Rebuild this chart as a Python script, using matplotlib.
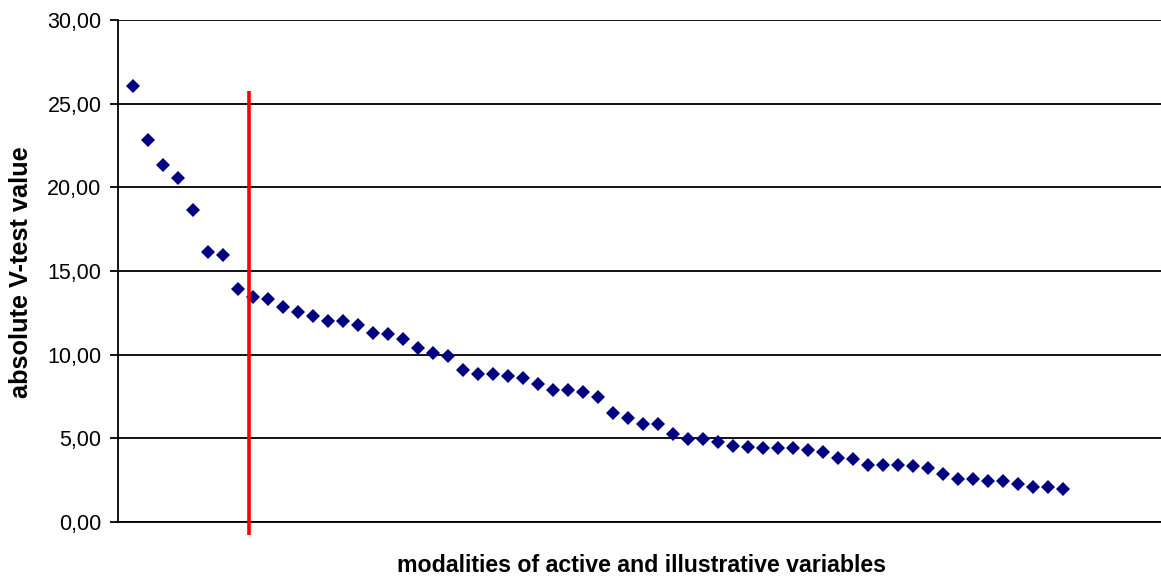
import matplotlib
matplotlib.use("Agg")
import matplotlib.pyplot as plt
from matplotlib.ticker import FuncFormatter

plt.rcParams['font.family'] = ['Liberation Sans', 'DejaVu Sans']

vtest_values = [
    26.03, 22.85, 21.33, 20.55, 18.62, 16.14, 15.94, 13.92, 13.44, 13.34,
    12.87, 12.57, 12.29, 12.01, 12.01, 11.79, 11.32, 11.24, 10.96, 10.40,
    10.07, 9.91, 9.11, 8.85, 8.85, 8.75, 8.63, 8.25, 7.86, 7.86,
    7.76, 7.46, 6.51, 6.21, 5.83, 5.83, 5.28, 4.96, 4.96, 4.76,
    4.56, 4.48, 4.40, 4.40, 4.40, 4.31, 4.21, 3.81, 3.75, 3.43,
    3.43, 3.43, 3.35, 3.25, 2.86, 2.57, 2.57, 2.48, 2.48, 2.28,
    2.09, 2.09, 1.99,
]
modality_index = list(range(1, len(vtest_values) + 1))
cutoff_position = 8.73
cutoff_range = (-0.78, 25.76)
y_ticks = [0, 5, 10, 15, 20, 25, 30]

W, H = 1161, 577
fig = plt.figure(figsize=(W / 100, H / 100), dpi=100)
ax = fig.add_axes([118 / W, (H - 522) / H, (W - 118) / W, (522 - 20) / H])

ax.plot(modality_index, vtest_values, linestyle='none', marker='D',
        markersize=7, color='#000080', markeredgewidth=0, zorder=3)

ax.plot([cutoff_position, cutoff_position], list(cutoff_range), color='#ff0000',
        linewidth=2.6, clip_on=False, zorder=4, solid_capstyle='butt')

ax.set_xlim(0, 69.5)
ax.set_ylim(0, 30)
ax.set_yticks(y_ticks)
ax.yaxis.set_major_formatter(FuncFormatter(lambda v, p: f"{v:.2f}".replace('.', ',')))
ax.set_xticks([])
ax.grid(axis='y', color='#000000', linewidth=1.3, zorder=1)
ax.set_axisbelow(True)

for s in ['top', 'right']:
    ax.spines[s].set_visible(False)
ax.spines['left'].set_linewidth(1.3)
ax.spines['bottom'].set_linewidth(1.3)
ax.tick_params(axis='y', direction='out', length=5.8, width=1.3, labelsize=15.5, pad=6)

fig.text(642 / W, (H - 565) / H, 'modalities of active and illustrative variables',
         ha='center', va='center', fontsize=16.7, fontweight='bold')
fig.text(21 / W, (H - 272) / H, 'absolute V-test value', ha='center', va='center',
         rotation=90, fontsize=18.3, fontweight='bold')

fig.savefig('out.png', dpi=100)
